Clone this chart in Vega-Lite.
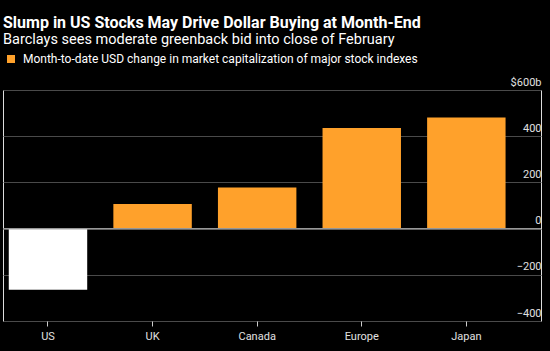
{
  "$schema": "https://vega.github.io/schema/vega-lite/v6.json",
  "width": 538,
  "height": 231,
  "autosize": "none",
  "padding": {"left": 3, "top": 90, "right": 9, "bottom": 30},
  "background": "#000000",
  "title": {
    "text": "Slump in US Stocks May Drive Dollar Buying at Month-End",
    "subtitle": "Barclays sees moderate greenback bid into close of February",
    "anchor": "start",
    "frame": "group",
    "color": "#ffffff",
    "subtitleColor": "#ffffff",
    "font": "Roboto",
    "fontSize": 16,
    "fontWeight": "bold",
    "subtitleFont": "Roboto",
    "subtitleFontSize": 14.5,
    "subtitleFontWeight": "normal",
    "subtitlePadding": 2,
    "offset": 7
  },
  "data": {
    "values": [
      {"index": "US", "value": -265},
      {"index": "UK", "value": 107},
      {"index": "Canada", "value": 178},
      {"index": "Europe", "value": 435},
      {"index": "Japan", "value": 481}
    ]
  },
  "layer": [
    {
      "mark": {"type": "bar"},
      "encoding": {
        "x": {
          "field": "index",
          "type": "nominal",
          "sort": null,
          "scale": {"paddingInner": 0.25, "paddingOuter": 0.197, "align": 0.14},
          "axis": {
            "title": null,
            "labelAngle": 0,
            "domain": false,
            "ticks": true,
            "tickSize": 5,
            "tickColor": "#cccccc",
            "labelColor": "#e0e0e0",
            "labelFont": "Roboto",
            "labelFontSize": 11,
            "labelPadding": 4,
            "grid": false
          }
        },
        "y": {
          "field": "value",
          "type": "quantitative",
          "scale": {"domain": [-400, 600], "nice": false},
          "axis": {
            "orient": "right",
            "title": null,
            "values": [-400, -200, 0, 200, 400, 600],
            "labelExpr": "datum.value == 600 ? '$600b' : datum.label",
            "grid": true,
            "gridColor": "#4a4a4a",
            "domain": false,
            "ticks": false,
            "tickSize": 0,
            "labelAlign": "right",
            "labelBaseline": "bottom",
            "labelPadding": 0,
            "labelOffset": -3,
            "labelColor": "#e0e0e0",
            "labelFont": "Roboto",
            "labelFontSize": 11
          }
        },
        "color": {
          "condition": {"test": "datum.value < 0", "value": "#ffffff"},
          "datum": "Month-to-date USD change in market capitalization of major stock indexes",
          "type": "nominal",
          "scale": {"range": ["#ffa12b"]},
          "legend": {
            "orient": "none",
            "legendX": 2,
            "legendY": -37,
            "title": null,
            "symbolType": "square",
            "symbolSize": 64,
            "labelFont": "Roboto",
            "labelFontSize": 12,
            "labelColor": "#ffffff",
            "labelLimit": 600,
            "labelOffset": 6,
            "padding": 0
          }
        }
      }
    },
    {
      "mark": {"type": "rule", "color": "#999999", "strokeWidth": 1},
      "encoding": {"y": {"datum": 0, "type": "quantitative"}}
    }
  ]
}
